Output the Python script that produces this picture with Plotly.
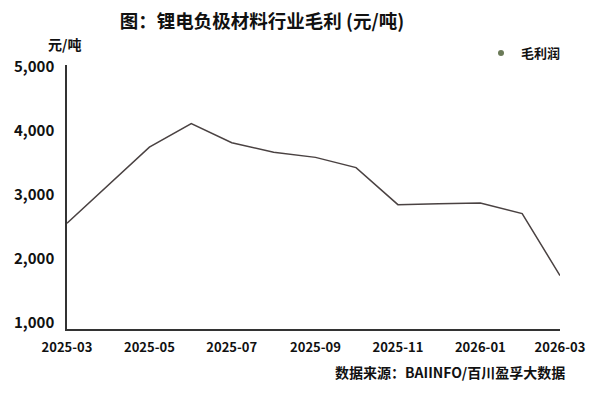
import plotly.graph_objects as go

months = ["2025-03-01", "2025-04-01", "2025-05-01", "2025-06-01", "2025-07-01",
          "2025-08-01", "2025-09-01", "2025-10-01", "2025-11-01", "2025-12-01",
          "2026-01-01", "2026-02-01", "2026-03-01"]
gross_profit = [2560, 3165, 3750, 4120, 3820, 3670, 3590, 3430, 2850, 2865, 2875, 2710, 1740]
tick_dates = ["2025-03-01", "2025-05-01", "2025-07-01", "2025-09-01",
              "2025-11-01", "2026-01-01", "2026-03-01"]
tick_text = ["2025-03", "2025-05", "2025-07", "2025-09", "2025-11", "2026-01", "2026-03"]
y_ticks = [1000, 2000, 3000, 4000, 5000]

FONT = "Noto Sans CJK SC"
OFF = 8  # page body margin

W, H = 600 - OFF, 396 - OFF
L, R, T, B = 67 - OFF, 600 - 560, 65 - OFF, 396 - 329
PW, PH = W - L - R, H - T - B


def px(x):  # reference page x -> paper x
    return (x - OFF - L) / PW


def py(y):  # reference page y -> paper y
    return (H - B - (y - OFF)) / PH


fig = go.Figure()
fig.add_trace(go.Scatter(
    x=months, y=gross_profit, mode="lines",
    line=dict(color="#4a4242", width=1.5),
    showlegend=False, hoverinfo="skip",
))
fig.add_trace(go.Scatter(
    x=[None], y=[None], mode="markers", name="毛利润",
    marker=dict(color="#6b7a58", size=6),
))

fig.update_layout(
    width=W, height=H,
    margin=dict(l=L, r=R, t=T, b=B, autoexpand=False),
    paper_bgcolor="white", plot_bgcolor="white",
    font=dict(family=FONT, color="#111111"),
    title=dict(
        text="图：锂电负极材料行业毛利 (元/吨)",
        font=dict(family=FONT, size=18.5, weight="bold", color="#111111"),
        x=(262 - OFF) / W, xref="container", xanchor="center",
        y=1 - (22 - OFF) / H, yref="container", yanchor="middle",
    ),
    legend=dict(
        x=px(481), xanchor="left", y=py(53), yanchor="middle",
        font=dict(family=FONT, size=13, weight="bold", color="#111111"),
        bgcolor="rgba(0,0,0,0)", itemwidth=30,
    ),
    xaxis=dict(
        type="date",
        range=["2025-03-01", "2026-03-01"],
        tickvals=tick_dates, ticktext=tick_text,
        showgrid=False, zeroline=False,
        showline=True, linecolor="#333333", linewidth=1.5,
        ticks="", ticklabelstandoff=6,
        tickfont=dict(family=FONT, size=13, weight="bold", color="#111111"),
    ),
    yaxis=dict(
        range=[905, 5035],
        tickvals=y_ticks, tickformat=",d",
        showgrid=False, zeroline=False,
        showline=True, linecolor="#333333", linewidth=1.5,
        ticks="", ticklabelstandoff=8,
        tickfont=dict(family=FONT, size=15, weight="bold", color="#111111"),
    ),
    annotations=[
        dict(text="元/吨", xref="paper", yref="paper",
             x=px(64), y=py(44),
             xanchor="center", yanchor="middle", showarrow=False,
             font=dict(family=FONT, size=14, weight="bold", color="#111111")),
        dict(text="数据来源：BAIINFO/百川盈孚大数据", xref="paper", yref="paper",
             x=px(567), y=py(372),
             xanchor="right", yanchor="middle", showarrow=False,
             font=dict(family=FONT, size=14, weight="bold", color="#111111")),
    ],
)

fig.write_html("out.html")
